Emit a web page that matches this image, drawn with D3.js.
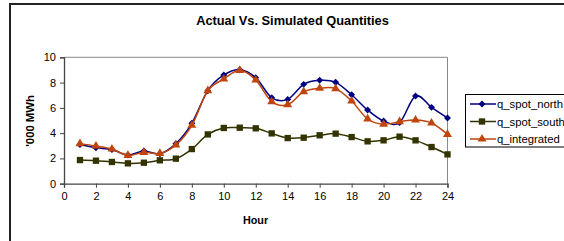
<!DOCTYPE html>
<html><head><meta charset="utf-8">
<script src="https://cdn.jsdelivr.net/npm/d3@7"></script>
<style>body{margin:0;background:#fff;} svg{display:block;font-family:"Liberation Sans",Arial,sans-serif;}</style>
</head><body>
<svg id="c" width="564" height="241"></svg>
<script>
const hours = d3.range(1, 25);
const qSpotNorth = [3.1,2.85,2.7,2.27,2.59,2.37,3.17,4.78,7.36,8.6,9.02,8.39,6.8,6.67,7.86,8.18,8.02,7.04,5.83,4.96,4.83,6.94,6.04,5.2];
const qSpotSouth = [1.87,1.82,1.72,1.61,1.66,1.85,1.98,2.74,3.9,4.41,4.43,4.38,3.98,3.61,3.64,3.83,3.96,3.69,3.35,3.43,3.72,3.43,2.9,2.32];
const qIntegrated = [3.17,2.98,2.74,2.24,2.48,2.4,3.06,4.62,7.36,8.28,8.97,8.2,6.49,6.25,7.28,7.55,7.52,6.54,5.12,4.7,4.91,5.04,4.8,3.9];
const seriesNames = ["q_spot_north","q_spot_south","q_integrated"];
const xTicks = d3.range(0, 25, 2);
const yTicks = [0,2,4,6,8,10];

const svg = d3.select("#c");
svg.append("rect").attr("x",10).attr("y",4).attr("width",600).attr("height",300)
  .attr("fill","none").attr("stroke","#222").attr("stroke-width",2);

const L=64,R=447.5,T=57.3,B=183.7;
const x = d3.scaleLinear().domain([0,24]).range([L,R]);
const y = d3.scaleLinear().domain([0,10]).range([B,T]);

svg.append("path").attr("d",`M${L},${T}H${R}V${B}`).attr("fill","none").attr("stroke","#888").attr("stroke-width",1);

const xa = svg.append("g").attr("transform",`translate(0,${B})`)
  .call(d3.axisBottom(x).tickValues(xTicks).tickSize(4).tickPadding(5));
const ya = svg.append("g").attr("transform",`translate(${L},0)`)
  .call(d3.axisLeft(y).tickValues(yTicks).tickSize(4).tickPadding(4));
[xa,ya].forEach(a=>{a.select(".domain").attr("stroke","#444").attr("stroke-width",1.3);
  a.selectAll(".tick line").attr("stroke","#444");
  a.selectAll("text").attr("font-size",11).attr("fill","#000").attr("font-family","Liberation Sans, Arial, sans-serif");});

svg.append("text").attr("x",292.5).attr("y",25).attr("text-anchor","middle")
  .attr("font-size",12.8).attr("font-weight","bold").text("Actual Vs. Simulated Quantities");
svg.append("text").attr("x",255.5).attr("y",224).attr("text-anchor","middle")
  .attr("font-size",10.8).attr("font-weight","bold").text("Hour");
svg.append("text").attr("transform","translate(34,121) rotate(-90)").attr("text-anchor","middle")
  .attr("font-size",11.3).attr("font-weight","bold").text("'000 MWh");

const colors = ["#000080","#333300","#C0440C"];
const data = [qSpotNorth,qSpotSouth,qIntegrated];
const symbols = [d3.symbolSquare,d3.symbolSquare,d3.symbolTriangle];
const rotations = [45,0,0];
const sizes = [24,40,34];
const line = d3.line().x((d,i)=>x(hours[i])).y(d=>y(d)).curve(d3.curveCardinal.tension(0));

data.forEach((vals,k)=>{
  svg.append("path").datum(vals).attr("d",line).attr("fill","none").attr("stroke",colors[k]).attr("stroke-width",1.5);
  svg.append("g").selectAll("path").data(vals).join("path")
    .attr("transform",(d,i)=>`translate(${x(hours[i])},${y(d)}) rotate(${rotations[k]})`)
    .attr("d",d3.symbol().type(symbols[k]).size(sizes[k])).attr("fill",colors[k]);
});

const lg = svg.append("g");
lg.append("rect").attr("x",465.5).attr("y",94.5).attr("width",120).attr("height",52.5)
  .attr("fill","#fff").attr("stroke","#000").attr("stroke-width",1);
seriesNames.forEach((n,k)=>{
  const yy = 104 + k*17.5;
  lg.append("line").attr("x1",470).attr("x2",496).attr("y1",yy).attr("y2",yy).attr("stroke",colors[k]).attr("stroke-width",1.5);
  lg.append("path").attr("transform",`translate(482,${yy}) rotate(${rotations[k]})`).attr("d",d3.symbol().type(symbols[k]).size(sizes[k])).attr("fill",colors[k]);
  lg.append("text").attr("x",497).attr("y",yy+4).attr("font-size",11.3).text(n);
});
</script>
</body></html>
